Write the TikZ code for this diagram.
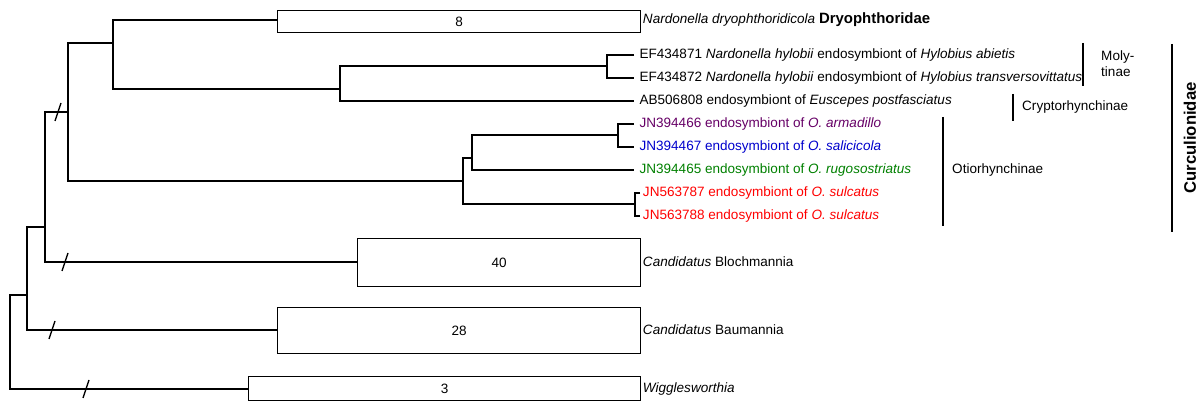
\documentclass[tikz,border=0pt]{standalone}
\usepackage{fontspec}
\setmainfont{Liberation Sans}
\usetikzlibrary{positioning}
\begin{document}
\begin{tikzpicture}[x=0.2mm, y=-0.2mm, font=\fontsize{7.7}{9}\selectfont,
    branch/.style={draw, line width=0.6pt},
    clade/.style={rectangle, draw, line width=0.6pt, anchor=north west, inner sep=0pt},
    leaf/.style={anchor=west, inner ysep=1pt, inner xsep=3pt},
    bar/.style={line width=1.2pt},
    cut/.style={line width=0.8pt}
]
    \useasboundingbox (0,0) rectangle (1200,414);

    % Internal nodes
    \coordinate (root) at (10,341);
    \coordinate (nA) at (27,295);
    \coordinate (nB) at (45,227);
    \coordinate (nC) at (68,112);
    \coordinate (nD) at (113,43);
    \coordinate (nE) at (340,89);
    \coordinate (nF) at (607,66);
    \coordinate (nG) at (463,181);
    \coordinate (nH) at (472,158);
    \coordinate (nI) at (618,135);
    \coordinate (nJ) at (635,204);

    % Collapsed clades
    \node[clade, minimum width=363*0.2mm, minimum height=22*0.2mm] (dryo) at (277,10) {};
    \node at (dryo.center) {8};
    \node[clade, minimum width=283*0.2mm, minimum height=48*0.2mm] (bloch) at (357,238) {};
    \node at (bloch.center) {40};
    \node[clade, minimum width=363*0.2mm, minimum height=46*0.2mm] (baum) at (277,307) {};
    \node at (baum.center) {28};
    \node[clade, minimum width=392*0.2mm, minimum height=24*0.2mm] (wigg) at (248,376) {};
    \node at (wigg.center) {3};

    % Leaves
    \node[leaf, inner xsep=1.5pt] (l1) at (640,20) {\textit{Nardonella dryophthoridicola} \textbf{\fontsize{8.5}{10}\selectfont Dryophthoridae}};
    \node[leaf] (l2) at (634,55) {EF434871 \textit{Nardonella hylobii} endosymbiont of \textit{Hylobius abietis}};
    \node[leaf] (l3) at (634,78) {EF434872 \textit{Nardonella hylobii} endosymbiont of \textit{Hylobius transversovittatus}};
    \node[leaf] (l4) at (634,101) {AB506808 endosymbiont of \textit{Euscepes postfasciatus}};
    \node[leaf, text=violet!80!black] (l5) at (634,124) {JN394466 endosymbiont of \textit{O. armadillo}};
    \node[leaf, text=blue!80!black] (l6) at (634,147) {JN394467 endosymbiont of \textit{O. salicicola}};
    \node[leaf, text=green!50!black] (l7) at (634,170) {JN394465 endosymbiont of \textit{O. rugosostriatus}};
    \node[leaf, text=red, inner xsep=1.5pt] (l8) at (640,193) {JN563787 endosymbiont of \textit{O. sulcatus}};
    \node[leaf, text=red, inner xsep=1.5pt] (l9) at (640,216) {JN563788 endosymbiont of \textit{O. sulcatus}};
    \node[leaf, inner xsep=1.5pt] (l10) at (640,262) {\textit{Candidatus} Blochmannia};
    \node[leaf, inner xsep=1.5pt] (l11) at (640,330) {\textit{Candidatus} Baumannia};
    \node[leaf, inner xsep=1.5pt] (l12) at (640,389) {\textit{Wigglesworthia}};

    % Branches
    \draw[branch] (wigg.west |- l12) -| (root) |- (nA);
    \draw[branch] (baum.west |- l11) -| (nA) |- (nB);
    \draw[branch] (bloch.west |- l10) -| (nB) |- (nC);
    \draw[branch] (nG) -| (nC) |- (nD);
    \draw[branch] (dryo.west |- l1) -| (nD) |- (nE);
    \draw[branch] (nF) -| (nE) |- (l4.west);
    \draw[branch] (l2.west) -| (nF) |- (l3.west);
    \draw[branch] (nH) -| (nG) |- (nJ);
    \draw[branch] (nI) -| (nH) |- (l7.west);
    \draw[branch] (l5.west) -| (nI) |- (l6.west);
    \draw[branch] (l8.west) -| (nJ) |- (l9.west);

    % Axis breaks
    \foreach \x/\y in {58/112, 65/262, 52/330, 86/389}
        \draw[cut] (\x-3,\y+9) -- (\x+3,\y-9);

    % Subfamily bars
    \draw[bar] (1083,43) coordinate (m1) -- (1083,86) coordinate (m2);
    \node[anchor=west, align=left] (moly) at (1095,64) {Moly-\\tinae};
    \draw[bar] (1013,94) coordinate (c1) -- (1013,121) coordinate (c2);
    \node[anchor=west] (crypto) at (1016,107) {Cryptorhynchinae};
    \draw[bar] (943,117) coordinate (o1) -- (943,226) coordinate (o2);
    \node[anchor=west] (otio) at (946,170) {Otiorhynchinae};
    \draw[bar] (1172,44) coordinate (f1) -- (1172,232) coordinate (f2);
    \node[rotate=90, font=\fontsize{9.5}{12}\selectfont\bfseries] (curc) at (1190,138) {Curculionidae};
\end{tikzpicture}
\end{document}
